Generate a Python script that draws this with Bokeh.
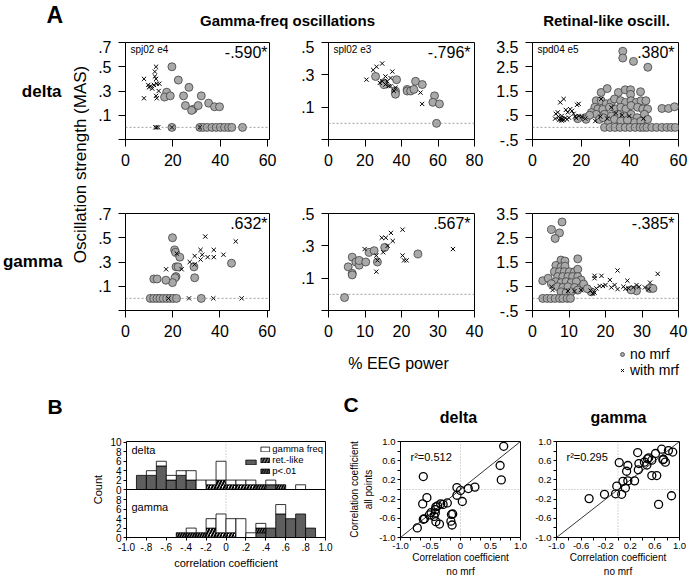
import numpy as np
from bokeh.plotting import figure
from bokeh.models import (Range1d, FixedTicker, CustomJSTickFormatter, Span, Label,
                          Legend, LegendItem, Slope)
from bokeh.layouts import column, row
from bokeh.embed import file_html
from bokeh.resources import INLINE

FONT = "Liberation Sans"

# ---------------- Panel A data ----------------
# delta / gamma-freq oscillations (spj02 e4)
a11_circ_x = [19.6, 22.3, 26.8, 24.5, 25.3, 17.4, 16.5, 18.9, 28.6, 27.9, 30.7, 32.0, 35.1, 37.6, 39.7,
              19.6, 31.4, 32.8, 34.5, 36.5, 38.3, 40.1, 41.8, 43.5, 44.9, 49.4]
a11_circ_y = [0.50, 0.39, 0.33, 0.26, 0.18, 0.29, 0.25, 0.26, 0.15, 0.14, 0.18, 0.26, 0.20, 0.17, 0.17,
              0, 0, 0, 0, 0, 0, 0, 0, 0, 0, 0]
a11_x_x = [7.8, 7.8, 9.6, 9.9, 10.6, 11.3, 12.0, 12.4, 12.4, 12.9, 12.9, 13.2, 12.9, 13.2, 14.3, 14.0,
           12.6, 13.2, 13.8, 19.6, 31.4]
a11_x_y = [0.40, 0.24, 0.35, 0.33, 0.34, 0.32, 0.35, 0.42, 0.46, 0.50, 0.40, 0.36, 0.26, 0.24, 0.36, 0.30,
           0, 0, 0, 0, 0]

# delta / gamma-freq (spl02 e3)
a12_circ_x = [25.8, 30.4, 30.4, 37.3, 36.7, 36.7, 43.1, 43.1, 45.0, 46.8, 47.7, 51.4, 58.1, 57.2, 60.8, 59.2]
a12_circ_y = [0.29, 0.25, 0.24, 0.27, 0.20, 0.18, 0.21, 0.20, 0.20, 0.21, 0.26, 0.24, 0.17, 0.13, 0.12, 0.0]
a12_x_x = [20.8, 24.5, 26.3, 29.4, 28.1, 31.2, 32.2, 34.0, 35.0, 35.8, 31.2, 34.0, 36.7, 50.4, 51.3, 29.5, 33.0]
a12_x_y = [0.27, 0.33, 0.35, 0.37, 0.25, 0.29, 0.26, 0.28, 0.32, 0.20, 0.24, 0.23, 0.22, 0.19, 0.12, 0.26, 0.23]

# delta / retinal-like (spd04 e5)
a13_circ_x = [37.1, 37.1, 41.5, 47.4,
              28.2, 30.7, 35.3, 38.1, 40.3, 44.4, 40.3,
              26.2, 28.2, 30.3, 32.4, 33.7, 36.2, 38.2, 40.5, 42.6, 44.6, 46.6,
              25.6, 26.9, 28.9, 31.6, 34.3, 36.3, 38.4, 40.5, 43.2, 45.3, 47.3,
              24.2, 26.2, 29.6, 32.4, 35.1, 37.8, 40.5, 43.0, 46.0, 47.3,
              31.0, 33.7, 36.3, 41.9, 21.6, 22.0, 18.6, 27.5, 29.0, 39.0, 44.5, 23.5,
              53.2, 55.9, 58.4,
              29.6, 31.9, 34.0, 36.0, 38.1, 40.1, 42.2, 44.2, 45.6, 47.0, 49.0, 51.0, 53.2, 55.2, 57.0, 58.7]
a13_circ_y = [3.14, 2.86, 2.72, 2.48,
              1.44, 1.60, 1.44, 1.55, 1.55, 1.47, 1.36,
              1.10, 1.10, 0.97, 1.03, 1.17, 1.10, 1.03, 1.10, 1.03, 1.10, 1.10,
              0.83, 0.76, 0.74, 0.83, 0.76, 0.83, 0.76, 0.90, 0.83, 0.76, 0.76,
              0.61, 0.54, 0.54, 0.47, 0.54, 0.47, 0.54, 0.40, 0.54, 0.33,
              0.26, 0.33, 0.26, 0.20, 0.40, 0.33, 0.36, 0.33, 0.40, 0.30, 0.25, 0.50,
              0.78, 0.78, 0.85,
              0, 0, 0, 0, 0, 0, 0, 0, 0, 0, 0, 0, 0, 0, 0, 0]
a13_x_x = [11.4, 12.8, 9.6, 10.4, 9.3, 12.0, 13.7, 14.5, 15.5, 16.2, 18.3, 19.0, 16.9, 19.0, 20.3, 21.7,
           25.8, 27.9, 30.7, 34.3, 36.8, 39.8, 45.6, 28.2, 32.4, 10.7, 11.8, 11.5, 12.3, 12.8, 13.5,
           14.2, 15.0, 17.5, 18.0, 11.0, 12.0]
a13_x_y = [1.03, 1.17, 0.56, 0.62, 0.36, 0.47, 0.72, 0.62, 0.75, 0.68, 0.93, 0.97, 0.56, 0.47, 0.44, 0.36,
           0.26, 0.44, 0.36, 0.58, 0.50, 0.47, 0.36, 1.17, 0.83, 0.44, 0.33, 0.38, 0.35, 0.30, 0.38,
           0.33, 0.40, 0.45, 0.38, 0.30, 0.28]

# gamma / gamma-freq
a21_circ_x = [19.9, 20.8, 21.2, 23.0, 21.4, 22.3, 21.4, 21.0, 19.9, 17.1, 12.0, 13.4, 29.0, 29.3, 44.9,
              10.5, 11.9, 13.3, 14.6, 16.0, 17.4, 18.8, 20.2, 21.6, 32.1]
a21_circ_y = [0.50, 0.40, 0.38, 0.34, 0.26, 0.26, 0.18, 0.17, 0.13, 0.15, 0.16, 0.16, 0.26, 0.17, 0.29,
              0, 0, 0, 0, 0, 0, 0, 0, 0, 0]
a21_x_x = [17.2, 21.7, 23.8, 27.2, 29.3, 31.8, 32.5, 31.8, 33.8, 34.8, 37.4, 37.4, 41.5, 46.7, 29.3,
           18.2, 26.9, 37.2, 49.2]
a21_x_y = [0.24, 0.37, 0.24, 0.30, 0.35, 0.40, 0.36, 0.32, 0.51, 0.34, 0.40, 0.34, 0.36, 0.47, 0.28,
           0, 0, 0, 0]

a22_circ_x = [4.4, 5.4, 6.5, 6.5, 6.5, 7.5, 8.4, 8.4, 10.2, 11.1, 12.5, 13.4, 15.4, 24.5]
a22_circ_y = [-0.02, 0.17, 0.23, 0.13, 0.12, 0.20, 0.18, 0.21, 0.20, 0.26, 0.27, 0.20, 0.29, 0.25]
a22_x_x = [9.9, 13.1, 13.1, 15.0, 14.6, 15.7, 17.1, 16.2, 17.6, 20.3, 20.3, 20.7, 21.4, 34.1, 13.4]
a22_x_y = [0.28, 0.24, 0.14, 0.26, 0.35, 0.35, 0.38, 0.30, 0.33, 0.40, 0.24, 0.21, 0.21, 0.28, 0.21]

a23_circ_x = [8.1, 5.2, 7.4, 6.2, 12.4, 7.8, 8.9, 2.8, 4.3,
              6.4, 7.8, 8.9, 6.0, 7.4, 8.7, 10.1, 11.5, 12.4,
              6.9, 8.3, 9.7, 11.0, 12.4, 13.3, 6.4, 7.8, 9.2, 10.6, 12.0, 5.2,
              6.9, 8.3, 9.7, 11.5, 13.3, 14.0, 7.8, 9.2, 10.6, 12.4, 16.1, 15.0,
              28.5, 32.1, 33.0, 27.0,
              2.8, 4.0, 5.1, 6.2, 7.4, 8.3, 9.5, 10.4]
a23_circ_y = [3.15, 2.84, 2.70, 2.47, 1.63, 1.58, 1.54, 0.73, 0.83,
              1.36, 1.30, 1.33, 1.10, 1.10, 1.10, 1.10, 1.10, 1.20,
              0.90, 0.90, 0.90, 0.90, 0.90, 0.76, 0.69, 0.65, 0.69, 0.65, 0.69, 0.60,
              0.48, 0.45, 0.48, 0.45, 0.45, 0.59, 0.27, 0.23, 0.27, 0.34, 0.27, 0.40,
              0.31, 0.41, 0.41, 0.35,
              0, 0, 0, 0, 0, 0, 0, 0]
a23_x_x = [23.3, 17.0, 17.0, 18.9, 34.3, 32.2, 26.0, 21.2, 20.0, 21.6, 23.3, 24.9, 26.3, 27.6, 29.2,
           30.8, 31.8, 17.5, 18.4, 19.3, 17.0, 15.9, 5.5, 5.2, 13.3, 11.5, 9.7, 22.5, 25.5, 28.5, 16.5]
a23_x_y = [1.15, 0.93, 0.83, 0.93, 1.01, 0.65, 0.73, 0.76, 0.55, 0.45, 0.38, 0.48, 0.41, 0.45, 0.48,
           0.45, 0.38, 0.41, 0.51, 0.51, 0.24, 0.32, 0.34, 0.48, 0.34, 0.30, 0.30, 0.55, 0.40, 0.55, 0.20]

corr_labels = ["-.590*", "-.796*", ".380*", ".632*", ".567*", "-.385*"]
unit_labels = ["spj02 e4", "spl02 e3", "spd04 e5"]
marker_labels = ["no mrf", "with mrf"]

# ---------------- Panel B data (bins of 0.1 from -1.0 to 1.0) ----------------
bin_edges = [-1.0, -0.9, -0.8, -0.7, -0.6, -0.5, -0.4, -0.3, -0.2, -0.1, 0.0,
             0.1, 0.2, 0.3, 0.4, 0.5, 0.6, 0.7, 0.8, 0.9, 1.0]
delta_sig_gamma = [0, 3, 3, 5, 2, 3, 2, 0, 0, 0, 0, 0, 0, 0, 1, 0, 0, 0, 0, 0]
delta_sig_ret = [0, 0, 0, 0, 0, 0, 0, 0, 0, 0, 0, 0, 0, 1, 0, 1, 0, 0, 0, 0]
delta_ret = [0, 0, 0, 0, 0, 0, 0, 0, 1, 2, 1, 1, 1, 0, 0, 0, 0, 0, 0, 0]
delta_gamma = [0, 0, 1, 1, 1, 1, 2, 2, 1, 4, 1, 1, 1, 0, 1, 0, 0, 1, 0, 0]
gamma_sig_gamma = [0, 0, 0, 0, 0, 0, 0, 0, 0, 0, 0, 0, 0, 1, 2, 5, 4, 5, 2, 0]
gamma_sig_ret = [0, 0, 0, 0, 0, 1, 1, 1, 0, 0, 0, 0, 0, 1, 0, 0, 0, 0, 0, 0]
gamma_ret = [0, 0, 0, 0, 0, 0, 0, 0, 2, 1, 1, 0, 0, 0, 0, 0, 0, 0, 0, 0]
gamma_gamma = [0, 0, 0, 0, 0, 0, 1, 0, 2, 4, 3, 4, 1, 1, 0, 2, 0, 0, 0, 0]

# ---------------- Panel C data ----------------
cd_x = [0.72, 0.66, 0.68, -0.62, -0.06, 0.13, 0.24, 0.0, -0.06, 0.03, -0.56, -0.63, -0.22, -0.29, -0.33,
        -0.41, -0.42, -0.49, -0.52, -0.44, -0.42, -0.60, -0.62, -0.41, -0.35, -0.13, -0.15, -0.16, -0.14,
        -0.72, -0.38]
cd_y = [0.90, 0.50, 0.20, 0.27, 0.04, 0.02, 0.05, -0.02, -0.12, -0.25, -0.17, -0.30, -0.28, -0.31, -0.30,
        -0.36, -0.42, -0.48, -0.53, -0.56, -0.49, -0.61, -0.62, -0.67, -0.72, -0.51, -0.52, -0.66, -0.74,
        -0.80, -0.34]
cg_x = [-0.47, -0.22, -0.04, -0.02, 0.06, 0.02, 0.08, 0.12, 0.16, 0.14, 0.16, 0.27, 0.32, 0.33, 0.34,
        0.43, 0.48, 0.47, 0.55, 0.61, 0.55, 0.63, 0.71, 0.73, 0.74, 0.77, 0.82, 0.66, 0.87, 0.89, 0.50]
cg_y = [-0.19, -0.10, -0.09, 0.07, -0.10, 0.56, 0.17, 0.03, 0.18, 0.38, 0.50, 0.18, 0.77, 0.41, 0.54,
        0.57, 0.64, 0.51, 0.61, 0.75, 0.29, 0.29, 0.84, 0.62, 0.63, 0.57, 0.81, -0.31, -0.13, 0.78, 0.66]
r2_labels = ["r\u00b2=0.512", "r\u00b2=0.295"]

# ---------------- helpers ----------------
FMT_A = CustomJSTickFormatter(code="""
let s = tick.toFixed(1);
return s.replace(/^(-?)0\\./, '$1.');
""")
FMT_B = CustomJSTickFormatter(code="""
if (Math.abs(tick) < 1e-9) return '0';
if (Math.abs(Math.abs(tick) - 1) < 1e-9) return tick.toFixed(1);
return tick.toFixed(1).replace(/^(-?)0\\./, '$1.');
""")
FMT_C = CustomJSTickFormatter(code="""
if (Math.abs(tick) < 1e-9) return '0';
return tick.toFixed(1);
""")


def base_fig(w, h, l, r, t, b, xr, yr):
    p = figure(width=w, height=h, x_range=Range1d(*xr), y_range=Range1d(*yr),
               min_border_left=l, min_border_right=r, min_border_top=t, min_border_bottom=b,
               toolbar_location=None, output_backend="svg", title=None)
    p.grid.visible = False
    p.outline_line_color = "black"
    p.outline_line_alpha = 1
    p.outline_line_width = 1
    p.background_fill_color = "white"
    p.border_fill_color = "white"
    return p


def canvas(w, h):
    p = figure(width=w, height=h, x_range=Range1d(0, w), y_range=Range1d(h, 0),
               min_border=0, toolbar_location=None, output_backend="svg", title=None,
               x_axis_type=None, y_axis_type=None)
    p.outline_line_color = None
    p.background_fill_color = "white"
    p.border_fill_color = "white"
    return p


def txt(p, x, y, s, size, bold=False, align="left", baseline="middle", angle=0, units="data"):
    p.add_layout(Label(x=x, y=y, x_units=units, y_units=units, text=s, text_font=FONT,
                       text_font_size=size, text_font_style="bold" if bold else "normal",
                       text_align=align, text_baseline=baseline, angle=angle, text_color="black"))


def style_axis(ax, size, tick_out, standoff):
    ax.axis_line_color = "black"
    ax.axis_line_width = 1
    ax.major_tick_line_color = "black"
    ax.minor_tick_line_color = "black"
    ax.major_tick_out = tick_out
    ax.major_tick_in = 0
    ax.minor_tick_out = tick_out
    ax.minor_tick_in = 0
    ax.major_label_text_font = FONT
    ax.major_label_text_font_size = size
    ax.major_label_text_color = "black"
    ax.major_label_standoff = standoff
    ax.axis_label_text_font = FONT
    ax.axis_label_text_font_style = "normal"
    ax.axis_label_text_color = "black"


FW, FH = 146, 97
CIRC = dict(marker="circle", size=8, fill_color="#a9a9a9", line_color="#404040", line_width=0.8)
CROSS = dict(marker="x", size=6, line_color="black", line_width=1)


def panel_a(w, l, r, t, b, xr, yr, xt, yt, ymin, cx, cy, xx, xy, corr, tag=None):
    p = base_fig(w, t + FH + b, l, r, t, b, xr, yr)
    p.xaxis.ticker = FixedTicker(ticks=xt)
    p.yaxis.ticker = FixedTicker(ticks=yt, minor_ticks=ymin)
    p.yaxis.formatter = FMT_A
    for ax in p.axis:
        style_axis(ax, "16px", 7, 7)
    p.xaxis.minor_tick_line_color = None
    p.add_layout(Span(location=0, dimension="width", line_color="#8a8a8a",
                      line_dash="2 2", line_width=0.8))
    p.scatter(cx, cy, **CIRC)
    p.scatter(xx, xy, **CROSS)
    txt(p, FW - 4, FH - 10, corr, "16px", align="right", units="screen")
    if tag:
        txt(p, 5, FH - 7, tag, "10px", units="screen")
    return p


# ---------------- header for A ----------------
hA = canvas(690, 40)
txt(hA, 46, 1, "A", "23px", bold=True, baseline="top")
txt(hA, 287, 20, "Gamma-freq oscillations", "15px", bold=True, align="center")
txt(hA, 606, 20, "Retinal-like oscill.", "15px", bold=True, align="center")

# ---------------- left labels for A ----------------
LA = canvas(95, 345)
txt(LA, 61, 51, "delta", "17px", bold=True, align="right")
txt(LA, 62, 221, "gamma", "17px", bold=True, align="right")
txt(LA, 80, 124, "Oscillation strength (MAS)", "17px", align="center", angle=np.pi / 2)

# ---------------- A plots ----------------
A11 = panel_a(200, 28, 26, 2, 51, (0, 60.8), (-0.1, 0.7), [0, 20, 40, 60], [0.1, 0.3, 0.5, 0.7], [-0.1],
              a11_circ_x, a11_circ_y, a11_x_x, a11_x_y, corr_labels[0], unit_labels[0])
A12 = panel_a(195, 33, 16, 2, 51, (0, 80), (-0.1, 0.5), [0, 20, 40, 60, 80], [0.1, 0.3, 0.5], [-0.1],
              a12_circ_x, a12_circ_y, a12_x_x, a12_x_y, corr_labels[1], unit_labels[1])
A13 = panel_a(200, 42, 12, 2, 51, (0, 60), (-0.5, 3.5), [0, 20, 40, 60], [-0.5, 0.5, 1.5, 2.5, 3.5], [],
              a13_circ_x, a13_circ_y, a13_x_x, a13_x_y, corr_labels[2], unit_labels[2])
A21 = panel_a(200, 28, 26, 23, 35, (0, 61), (-0.1, 0.7), [0, 20, 40, 60], [0.1, 0.3, 0.5, 0.7], [-0.1],
              a21_circ_x, a21_circ_y, a21_x_x, a21_x_y, corr_labels[3])
A22 = panel_a(195, 33, 16, 23, 35, (0, 40), (-0.1, 0.5), [0, 10, 20, 30, 40], [0.1, 0.3, 0.5], [-0.1],
              a22_circ_x, a22_circ_y, a22_x_x, a22_x_y, corr_labels[4])
A23 = panel_a(200, 42, 12, 23, 35, (0, 40), (-0.5, 3.5), [0, 10, 20, 30, 40], [-0.5, 0.5, 1.5, 2.5, 3.5], [],
              a23_circ_x, a23_circ_y, a23_x_x, a23_x_y, corr_labels[5])

# strip under panel A: x-axis title and marker key
SA = canvas(595, 40)
txt(SA, 303, 18, "% EEG power", "16px", align="center")
# key renderers hold a single undefined (NaN) point so only their legend swatch shows
key_c = SA.scatter(x=[np.nan], y=[np.nan], **CIRC)
key_x = SA.scatter(x=[np.nan], y=[np.nan], **CROSS)
for rend, lab, vy in [(key_c, marker_labels[0], 23.0), (key_x, marker_labels[1], 7.0)]:
    SA.add_layout(Legend(items=[LegendItem(label=lab, renderers=[rend])],
                         location=(522, vy), orientation="vertical",
                         label_text_font=FONT, label_text_font_size="14px", label_text_color="black",
                         glyph_width=10, glyph_height=12, label_height=12, label_standoff=3,
                         spacing=0, padding=0, margin=0, border_line_color=None,
                         background_fill_alpha=0))

# ---------------- header for B / C ----------------
hBC = canvas(690, 47)
txt(hBC, 47, 20.5, "B", "21px", bold=True)
txt(hBC, 343, 19, "C", "21px", bold=True)
txt(hBC, 458, 32, "delta", "16px", bold=True, align="center")
txt(hBC, 618, 32, "gamma", "16px", bold=True, align="center")

# ---------------- Panel B ----------------
SPAN = 10.2
pB = base_fig(345, 148, 126, 20, 9, 41, (-1.0, 1.0), (0, 2 * SPAN))
pB.extra_y_ranges = {"top": Range1d(-SPAN, SPAN)}
edges = np.array(bin_edges)
left_e, right_e = edges[:-1], edges[1:]

STY = {
    "dark": dict(fill_color="#5e5e5e", line_color="black", line_width=0.8),
    "darkhatch": dict(fill_color="#8c8c8c", line_color="black", line_width=0.8,
                      hatch_pattern="/", hatch_color="black", hatch_weight=1.5, hatch_scale=5),
    "hatch": dict(fill_color="white", line_color="black", line_width=0.8,
                  hatch_pattern="/", hatch_color="black", hatch_weight=2, hatch_scale=6),
    "white": dict(fill_color="white", line_color="black", line_width=0.8),
}


def stack(p, comps, range_name):
    bottom = np.zeros(len(left_e))
    rends = {}
    for key, counts in comps:
        c = np.array(counts, dtype=float)
        m = c > 0
        rends[key] = p.quad(left=left_e[m], right=right_e[m], bottom=bottom[m], top=(bottom + c)[m],
                            y_range_name=range_name, **STY[key])
        bottom = bottom + c
    return rends


rt = stack(pB, [("dark", delta_sig_gamma), ("darkhatch", delta_sig_ret),
                ("hatch", delta_ret), ("white", delta_gamma)], "top")
stack(pB, [("dark", gamma_sig_gamma), ("darkhatch", gamma_sig_ret),
           ("hatch", gamma_ret), ("white", gamma_gamma)], "default")
pB.add_layout(Span(location=SPAN, dimension="width", line_color="black", line_width=1))
pB.add_layout(Span(location=0, dimension="height", line_color="#999999", line_dash="1 2", line_width=0.8))
pB.xaxis.ticker = FixedTicker(ticks=[-1.0, -0.8, -0.6, -0.4, -0.2, 0.0, 0.2, 0.4, 0.6, 0.8, 1.0])
pB.xaxis.formatter = FMT_B
yt_bottom = [0, 2, 4, 6, 8]
yt_top = [0, 2, 4, 6, 8, 10]
pB.yaxis.ticker = FixedTicker(ticks=yt_bottom + [SPAN + v for v in yt_top])
pB.yaxis.formatter = CustomJSTickFormatter(args=dict(span=SPAN), code="""
return (tick >= span - 1e-6 ? tick - span : tick).toFixed(0);
""")
for ax in pB.axis:
    style_axis(ax, "10px", 3, 2)
    ax.minor_tick_line_color = None
pB.xaxis.axis_label = "correlation coefficient"
pB.yaxis.axis_label = "Count"
pB.xaxis.axis_label_text_font_size = "11px"
pB.yaxis.axis_label_text_font_size = "11px"
pB.xaxis.axis_label_standoff = 3
pB.yaxis.axis_label_standoff = 3
txt(pB, 5, 88, "delta", "11px", units="screen")
txt(pB, 5, 31, "gamma", "11px", units="screen")
legB = Legend(items=[LegendItem(label="gamma freq", renderers=[rt["white"]]),
                     LegendItem(label="ret.-like", renderers=[rt["hatch"]]),
                     LegendItem(label="p<.01", renderers=[rt["darkhatch"]])],
              location="top_right", label_text_font=FONT, label_text_font_size="9.5px",
              label_text_color="black",
              glyph_width=11, glyph_height=6, label_height=8, label_standoff=2,
              spacing=0, padding=2, margin=2, border_line_color=None, background_fill_alpha=0)
pB.add_layout(legB)
legB2 = Legend(items=[LegendItem(label=" ", renderers=[rt["dark"]])],
               location=(118, 71), label_text_font=FONT, label_text_font_size="9.5px",
               glyph_width=13, glyph_height=6, label_height=8, label_standoff=0,
               spacing=0, padding=0, margin=0, border_line_color=None, background_fill_alpha=0)
pB.add_layout(legB2)


# ---------------- Panel C ----------------
def panel_c(w, l, r, xt, xminor, cx, cy, r2, ylabel=None):
    p = base_fig(w, 148, l, r, 7, 43, (-1, 1), (-1, 1))
    p.xaxis.ticker = FixedTicker(ticks=xt, minor_ticks=xminor)
    p.yaxis.ticker = FixedTicker(ticks=[-1.0, -0.6, -0.2, 0.2, 0.6, 1.0], minor_ticks=[-0.8, -0.4, 0.0, 0.4, 0.8])
    p.xaxis.formatter = FMT_C
    p.yaxis.formatter = FMT_C
    for ax in p.axis:
        style_axis(ax, "9.5px", 3, 2)
        ax.axis_label_text_font_size = "10px"
        ax.axis_label_standoff = 2
        ax.axis_label_text_line_height = 1.3
    p.xaxis.axis_label = "Correlation coefficient\nno mrf"
    p.xaxis.axis_label_standoff = 0
    if ylabel:
        p.yaxis.axis_label = ylabel
    p.add_layout(Span(location=0, dimension="width", line_color="#999999", line_dash="1 2", line_width=0.8))
    p.add_layout(Span(location=0, dimension="height", line_color="#999999", line_dash="1 2", line_width=0.8))
    p.add_layout(Slope(gradient=1, y_intercept=0, line_color="black", line_width=0.8))
    p.scatter(cx, cy, marker="circle", size=8, fill_color=None, line_color="black", line_width=1.3)
    txt(p, 10, 81, r2, "11px", units="screen")
    return p


minor_c1 = [v for v in np.round(np.arange(-1, 1.0001, 1 / 6), 4) if abs(round(v * 2) - v * 2) > 1e-3]
C1 = panel_c(185, 52, 10, [-1.0, -0.5, 0.0, 0.5, 1.0], minor_c1, cd_x, cd_y, r2_labels[0],
             "Correlation coefficient\nall points")
C2 = panel_c(160, 26, 11, [-1.0, -0.6, -0.2, 0.2, 0.6, 1.0], [-0.8, -0.4, 0.0, 0.4, 0.8],
             cg_x, cg_y, r2_labels[1])

layout = column(
    hA,
    row(LA, column(row(A11, A12, A13), row(A21, A22, A23), SA)),
    hBC,
    row(pB, C1, C2),
)

open("out.html", "w").write(file_html(layout, INLINE))
